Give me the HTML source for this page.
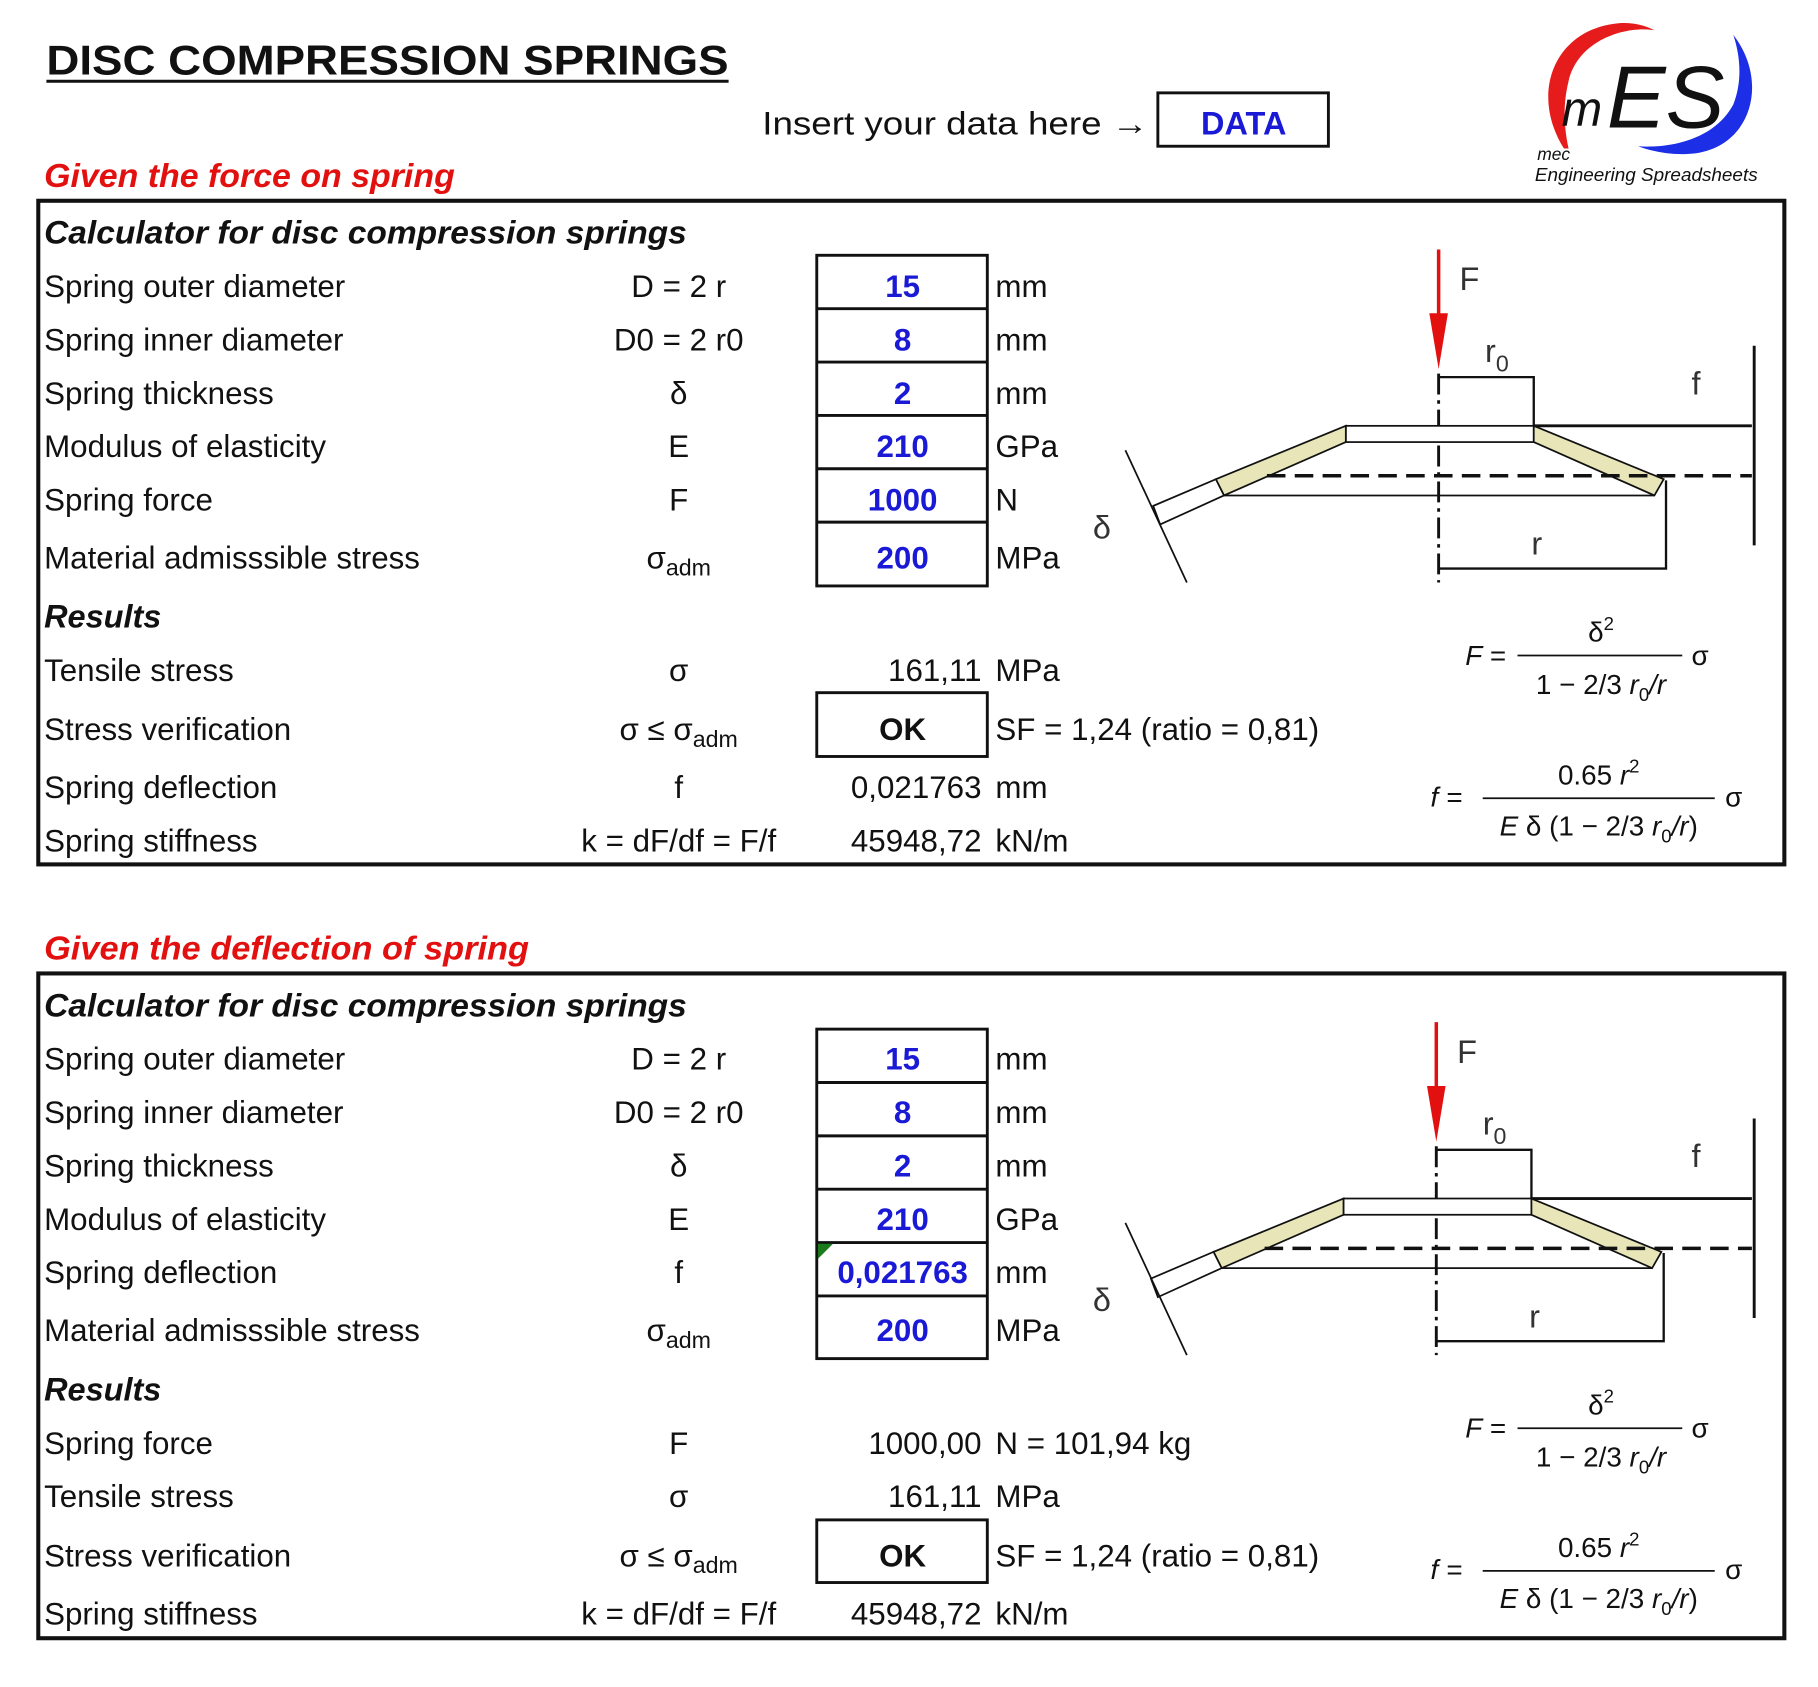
<!DOCTYPE html>
<html><head><meta charset="utf-8"><style>
html,body{margin:0;padding:0;background:#fff}
svg{display:block}
text{font-family:"Liberation Sans",sans-serif;fill:#111}
.t{font-size:27px}
.h{font-size:28px;font-weight:bold;font-style:italic}
.v{font-size:27px;font-weight:bold}
.v text{fill:#1a1ad6}
.m{text-anchor:middle}
.e{text-anchor:end}
text.red{fill:#e31010;font-size:29px;font-weight:bold;font-style:italic}
.fm{font-size:24px}
text.dg{font-size:28px;fill:#333}
</style></head><body>
<svg width="1818" height="1687" viewBox="0 0 1567 1454" xmlns="http://www.w3.org/2000/svg">
<!-- header -->
<text x="40" y="64" style="font-size:36px;font-weight:bold" textLength="588" lengthAdjust="spacingAndGlyphs">DISC COMPRESSION SPRINGS</text>
<line x1="40" y1="70" x2="628" y2="70" stroke="#111" stroke-width="2.5"/>
<text x="657" y="116" style="font-size:28px" textLength="333" lengthAdjust="spacingAndGlyphs">Insert your data here →</text>
<rect x="998" y="80" width="147" height="46" fill="#fff" stroke="#111" stroke-width="2.5"/>
<text x="1072" y="116" class="m" style="font-size:28px;font-weight:bold;fill:#1a1ad6">DATA</text>
<!-- logo -->
<path d="M1348,128 C1318,80 1340,25 1395,20 C1408,19 1418,22 1426,26 C1400,22 1360,35 1352,70 C1347,90 1348,110 1352,128 Z" fill="#e61c1c"/>
<path d="M1494,30 C1525,70 1510,125 1462,132 C1445,134 1428,132 1412,126 C1440,128 1478,120 1494,90 C1502,70 1500,48 1494,30 Z" fill="#1c2ee6"/>
<text x="1346" y="108" style="font-size:42px;font-style:italic">m</text>
<text x="1385" y="110" style="font-size:76px;font-style:italic">ES</text>
<text x="1325" y="138" style="font-size:15px;font-style:italic">mec</text>
<text x="1323" y="156" style="font-size:16px;font-style:italic" textLength="192" lengthAdjust="spacingAndGlyphs">Engineering Spreadsheets</text>

<text x="38" y="161" class="red" textLength="354" lengthAdjust="spacingAndGlyphs">Given the force on spring</text>
<text x="38" y="827" class="red" textLength="418" lengthAdjust="spacingAndGlyphs">Given the deflection of spring</text>

<!-- ===== Section 1 ===== -->
<rect x="33" y="173" width="1505" height="572" fill="none" stroke="#111" stroke-width="3.5"/>
<text x="38" y="210" class="h" textLength="554" lengthAdjust="spacingAndGlyphs">Calculator for disc compression springs</text>
<g class="t">
<text x="38" y="256">Spring outer diameter</text>
<text x="38" y="302">Spring inner diameter</text>
<text x="38" y="348">Spring thickness</text>
<text x="38" y="394">Modulus of elasticity</text>
<text x="38" y="440">Spring force</text>
<text x="38" y="490">Material admisssible stress</text>
<text x="38" y="587">Tensile stress</text>
<text x="38" y="638">Stress verification</text>
<text x="38" y="688">Spring deflection</text>
<text x="38" y="734">Spring stiffness</text>
</g>
<text x="38" y="541" class="h">Results</text>
<g class="t m">
<text x="585" y="256">D = 2 r</text>
<text x="585" y="302">D0 = 2 r0</text>
<text x="585" y="348">δ</text>
<text x="585" y="394">E</text>
<text x="585" y="440">F</text>
<text x="585" y="490">σ<tspan style="font-size:20px" dy="6">adm</tspan></text>
<text x="585" y="587">σ</text>
<text x="585" y="638">σ ≤ σ<tspan style="font-size:20px" dy="6">adm</tspan></text>
<text x="585" y="688">f</text>
<text x="585" y="734">k = dF/df = F/f</text>
</g>
<g fill="none" stroke="#111" stroke-width="2.5">
<rect x="704" y="220" width="147" height="285"/>
<line x1="704" y1="266" x2="851" y2="266"/><line x1="704" y1="312" x2="851" y2="312"/>
<line x1="704" y1="358" x2="851" y2="358"/><line x1="704" y1="404" x2="851" y2="404"/>
<line x1="704" y1="450" x2="851" y2="450"/>
<rect x="704" y="597" width="147" height="55"/>
</g>
<g class="v m">
<text x="778" y="256">15</text><text x="778" y="302">8</text><text x="778" y="348">2</text>
<text x="778" y="394">210</text><text x="778" y="440">1000</text><text x="778" y="490">200</text>
</g>
<text x="778" y="638" class="m" style="font-size:27px;font-weight:bold">OK</text>
<g class="t">
<text x="858" y="256">mm</text><text x="858" y="302">mm</text><text x="858" y="348">mm</text>
<text x="858" y="394">GPa</text><text x="858" y="440">N</text><text x="858" y="490">MPa</text>
<text x="846" y="587" class="e">161,11</text><text x="858" y="587">MPa</text>
<text x="858" y="638">SF = 1,24  (ratio = 0,81)</text>
<text x="846" y="688" class="e">0,021763</text><text x="858" y="688">mm</text>
<text x="846" y="734" class="e">45948,72</text><text x="858" y="734">kN/m</text>
</g>
<!-- diagram 1 -->
<g>
<line x1="1240" y1="215" x2="1240" y2="272" stroke="#e31010" stroke-width="3"/>
<polygon points="1232,270 1248,270 1240,318" fill="#e31010"/>
<text x="1258" y="250" class="dg">F</text>
<line x1="1240" y1="322" x2="1240" y2="502" stroke="#111" stroke-width="2.5" stroke-dasharray="18,5,3,5"/>
<polyline points="1240,325 1322,325 1322,367" fill="none" stroke="#111" stroke-width="2"/>
<text x="1280" y="312" class="dg">r<tspan style="font-size:20px" dy="8">0</tspan></text>
<rect x="1160" y="367" width="162" height="14" fill="#fff" stroke="#111" stroke-width="1.5"/>
<polygon points="1160,367 1160,381 1055,427 1048,413" fill="#e8e6b8" stroke="#111" stroke-width="1.5"/>
<polygon points="1322,367 1322,381 1426,427 1434,413" fill="#e8e6b8" stroke="#111" stroke-width="1.5"/>
<line x1="1055" y1="427" x2="1426" y2="427" stroke="#111" stroke-width="1.5"/>
<line x1="1092" y1="410" x2="1510" y2="410" stroke="#111" stroke-width="3" stroke-dasharray="16,8"/>
<line x1="1322" y1="367" x2="1510" y2="367" stroke="#111" stroke-width="2.5"/>
<line x1="1512" y1="298" x2="1512" y2="470" stroke="#111" stroke-width="2.5"/>
<text x="1458" y="340" class="dg">f</text>
<polyline points="1436,414 1436,490 1240,490" fill="none" stroke="#111" stroke-width="2"/>
<text x="1320" y="478" class="dg">r</text>
<polygon points="1048,413 1055,427 1000,452 994,436" fill="#fff" stroke="#111" stroke-width="1.5"/>
<line x1="970" y1="388" x2="1023" y2="502" stroke="#111" stroke-width="1.5"/>
<text x="942" y="464" class="dg">δ</text>
</g>
<!-- formulas 1 -->
<g class="fm">
<text x="1263" y="573" style="font-style:italic">F =</text>
<line x1="1308" y1="565" x2="1450" y2="565" stroke="#111" stroke-width="1.5"/>
<text x="1380" y="553" class="m">δ<tspan style="font-size:16px" dy="-10">2</tspan></text>
<text x="1380" y="598" class="m">1 − 2/3 <tspan style="font-style:italic">r</tspan><tspan style="font-size:16px" dy="6">0</tspan><tspan dy="-6" style="font-style:italic">/r</tspan></text>
<text x="1458" y="573">σ</text>
<text x="1233" y="695" style="font-style:italic">f =</text>
<line x1="1278" y1="688" x2="1478" y2="688" stroke="#111" stroke-width="1.5"/>
<text x="1378" y="676" class="m">0.65 <tspan style="font-style:italic">r</tspan><tspan style="font-size:16px" dy="-10">2</tspan></text>
<text x="1378" y="720" class="m"><tspan style="font-style:italic">E</tspan> δ (1 − 2/3 <tspan style="font-style:italic">r</tspan><tspan style="font-size:16px" dy="6">0</tspan><tspan dy="-6" style="font-style:italic">/r</tspan>)</text>
<text x="1487" y="695">σ</text>
</g>

<!-- ===== Section 2 ===== -->
<rect x="33" y="839" width="1505" height="573" fill="none" stroke="#111" stroke-width="3.5"/>
<text x="38" y="876" class="h" textLength="554" lengthAdjust="spacingAndGlyphs">Calculator for disc compression springs</text>
<g class="t">
<text x="38" y="922">Spring outer diameter</text>
<text x="38" y="968">Spring inner diameter</text>
<text x="38" y="1014">Spring thickness</text>
<text x="38" y="1060">Modulus of elasticity</text>
<text x="38" y="1106">Spring deflection</text>
<text x="38" y="1156">Material admisssible stress</text>
<text x="38" y="1253">Spring force</text>
<text x="38" y="1299">Tensile stress</text>
<text x="38" y="1350">Stress verification</text>
<text x="38" y="1400">Spring stiffness</text>
</g>
<text x="38" y="1207" class="h">Results</text>
<g class="t m">
<text x="585" y="922">D = 2 r</text>
<text x="585" y="968">D0 = 2 r0</text>
<text x="585" y="1014">δ</text>
<text x="585" y="1060">E</text>
<text x="585" y="1106">f</text>
<text x="585" y="1156">σ<tspan style="font-size:20px" dy="6">adm</tspan></text>
<text x="585" y="1253">F</text>
<text x="585" y="1299">σ</text>
<text x="585" y="1350">σ ≤ σ<tspan style="font-size:20px" dy="6">adm</tspan></text>
<text x="585" y="1400">k = dF/df = F/f</text>
</g>
<g fill="none" stroke="#111" stroke-width="2.5">
<rect x="704" y="887" width="147" height="284"/>
<line x1="704" y1="933" x2="851" y2="933"/><line x1="704" y1="979" x2="851" y2="979"/>
<line x1="704" y1="1025" x2="851" y2="1025"/><line x1="704" y1="1071" x2="851" y2="1071"/>
<line x1="704" y1="1117" x2="851" y2="1117"/>
<rect x="704" y="1310" width="147" height="54"/>
</g>
<polygon points="705,1072 718,1072 705,1085" fill="#1b7a1b"/>
<g class="v m">
<text x="778" y="922">15</text><text x="778" y="968">8</text><text x="778" y="1014">2</text>
<text x="778" y="1060">210</text><text x="778" y="1106">0,021763</text><text x="778" y="1156">200</text>
</g>
<text x="778" y="1350" class="m" style="font-size:27px;font-weight:bold">OK</text>
<g class="t">
<text x="858" y="922">mm</text><text x="858" y="968">mm</text><text x="858" y="1014">mm</text>
<text x="858" y="1060">GPa</text><text x="858" y="1106">mm</text><text x="858" y="1156">MPa</text>
<text x="846" y="1253" class="e">1000,00</text><text x="858" y="1253">N = 101,94 kg</text>
<text x="846" y="1299" class="e">161,11</text><text x="858" y="1299">MPa</text>
<text x="858" y="1350">SF = 1,24  (ratio = 0,81)</text>
<text x="846" y="1400" class="e">45948,72</text><text x="858" y="1400">kN/m</text>
</g>
<!-- diagram 2 -->
<g transform="translate(-2,666)">
<line x1="1240" y1="215" x2="1240" y2="272" stroke="#e31010" stroke-width="3"/>
<polygon points="1232,270 1248,270 1240,318" fill="#e31010"/>
<text x="1258" y="250" class="dg">F</text>
<line x1="1240" y1="322" x2="1240" y2="502" stroke="#111" stroke-width="2.5" stroke-dasharray="18,5,3,5"/>
<polyline points="1240,325 1322,325 1322,367" fill="none" stroke="#111" stroke-width="2"/>
<text x="1280" y="312" class="dg">r<tspan style="font-size:20px" dy="8">0</tspan></text>
<rect x="1160" y="367" width="162" height="14" fill="#fff" stroke="#111" stroke-width="1.5"/>
<polygon points="1160,367 1160,381 1055,427 1048,413" fill="#e8e6b8" stroke="#111" stroke-width="1.5"/>
<polygon points="1322,367 1322,381 1426,427 1434,413" fill="#e8e6b8" stroke="#111" stroke-width="1.5"/>
<line x1="1055" y1="427" x2="1426" y2="427" stroke="#111" stroke-width="1.5"/>
<line x1="1092" y1="410" x2="1512" y2="410" stroke="#111" stroke-width="3" stroke-dasharray="16,8"/>
<line x1="1322" y1="367" x2="1512" y2="367" stroke="#111" stroke-width="2.5"/>
<line x1="1514" y1="298" x2="1514" y2="470" stroke="#111" stroke-width="2.5"/>
<text x="1460" y="340" class="dg">f</text>
<polyline points="1436,414 1436,490 1240,490" fill="none" stroke="#111" stroke-width="2"/>
<text x="1320" y="478" class="dg">r</text>
<polygon points="1048,413 1055,427 1000,452 994,436" fill="#fff" stroke="#111" stroke-width="1.5"/>
<line x1="972" y1="388" x2="1025" y2="502" stroke="#111" stroke-width="1.5"/>
<text x="944" y="464" class="dg">δ</text>
</g>
<g class="fm" transform="translate(0,666)">
<text x="1263" y="573" style="font-style:italic">F =</text>
<line x1="1308" y1="565" x2="1450" y2="565" stroke="#111" stroke-width="1.5"/>
<text x="1380" y="553" class="m">δ<tspan style="font-size:16px" dy="-10">2</tspan></text>
<text x="1380" y="598" class="m">1 − 2/3 <tspan style="font-style:italic">r</tspan><tspan style="font-size:16px" dy="6">0</tspan><tspan dy="-6" style="font-style:italic">/r</tspan></text>
<text x="1458" y="573">σ</text>
<text x="1233" y="695" style="font-style:italic">f =</text>
<line x1="1278" y1="688" x2="1478" y2="688" stroke="#111" stroke-width="1.5"/>
<text x="1378" y="676" class="m">0.65 <tspan style="font-style:italic">r</tspan><tspan style="font-size:16px" dy="-10">2</tspan></text>
<text x="1378" y="720" class="m"><tspan style="font-style:italic">E</tspan> δ (1 − 2/3 <tspan style="font-style:italic">r</tspan><tspan style="font-size:16px" dy="6">0</tspan><tspan dy="-6" style="font-style:italic">/r</tspan>)</text>
<text x="1487" y="695">σ</text>
</g>
</svg>
</body></html>
